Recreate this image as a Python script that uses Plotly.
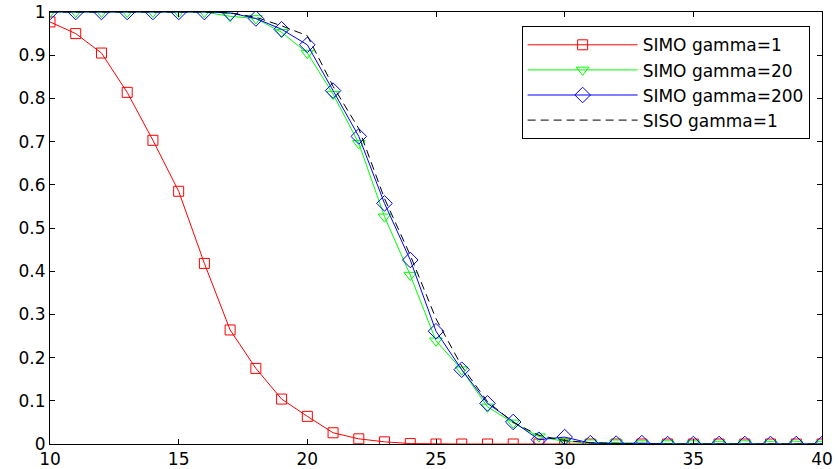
import plotly.graph_objects as go

snr = list(range(10, 41))

simo_g1 = [0.977, 0.950, 0.905, 0.814, 0.703, 0.585, 0.418, 0.264, 0.175, 0.104,
           0.064, 0.026, 0.012, 0.005, 0.001, 0.0, 0.0, 0.0, 0.0, 0.0,
           0.0, 0.0, 0.0, 0.0, 0.0, 0.0, 0.0, 0.0, 0.0, 0.0, 0.0]
simo_g20 = [1.0, 1.0, 1.0, 1.0, 1.0, 1.0, 1.0, 0.99, 0.985, 0.953,
            0.905, 0.81, 0.696, 0.526, 0.391, 0.239, 0.172, 0.086, 0.049, 0.017,
            0.006, 0.003, 0.003, 0.001, 0.001, 0.001, 0.0, 0.001, 0.0, 0.0, 0.0]
simo_g200 = [1.0, 1.0, 1.0, 1.0, 1.0, 1.0, 1.0, 0.998, 0.985, 0.96,
             0.924, 0.818, 0.712, 0.557, 0.426, 0.261, 0.172, 0.094, 0.051, 0.010,
             0.016, 0.002, 0.001, 0.002, 0.0, 0.0, 0.0, 0.0, 0.0, 0.0, 0.0]
siso_g1 = [1.0, 1.0, 1.0, 1.0, 1.0, 1.0, 1.0, 0.998, 0.988, 0.968,
           0.945, 0.828, 0.73, 0.568, 0.437, 0.29, 0.18, 0.098, 0.05, 0.02,
           0.008, 0.003, 0.001, 0.0, 0.0, 0.0, 0.0, 0.0, 0.0, 0.0, 0.0]

fig = go.Figure()
fig.add_trace(go.Scatter(x=snr, y=simo_g1, name="SIMO gamma=1", mode="lines+markers",
                         line=dict(color="#ff0000", width=1),
                         marker=dict(symbol="square-open", size=10, color="#ff0000", line=dict(width=1))))
fig.add_trace(go.Scatter(x=snr, y=simo_g20, name="SIMO gamma=20", mode="lines+markers",
                         line=dict(color="#00ff00", width=1),
                         marker=dict(symbol="triangle-down-open", size=11, color="#00ff00", line=dict(width=1))))
fig.add_trace(go.Scatter(x=snr, y=simo_g200, name="SIMO gamma=200", mode="lines+markers",
                         line=dict(color="#0000ff", width=1),
                         marker=dict(symbol="diamond-open", size=12, color="#0000ff", line=dict(width=1))))
fig.add_trace(go.Scatter(x=snr, y=siso_g1, name="SISO gamma=1", mode="lines",
                         line=dict(color="black", width=1, dash="8px,5px")))

axis_style = dict(showline=True, linecolor="black", linewidth=1, mirror="ticks",
                  ticks="inside", ticklen=5, tickcolor="black", showgrid=False,
                  zeroline=False, automargin=False, ticklabeloverflow="allow",
                  tickfont=dict(family="DejaVu Sans", size=17, color="black"))

fig.update_xaxes(range=[10, 40], dtick=5, **axis_style)
fig.update_yaxes(range=[0, 1], dtick=0.1, tickformat="~g", **axis_style)

fig.update_layout(
    width=839, height=469,
    margin=dict(l=50, r=17, t=12, b=25),
    plot_bgcolor="white", paper_bgcolor="white",
    legend=dict(x=0.984, y=0.967, xanchor="right", yanchor="top",
                bordercolor="black", borderwidth=1, bgcolor="white",
                font=dict(family="DejaVu Sans", size=17, color="black"),
                tracegroupgap=0, itemwidth=110),
)

# drop the default 8px body margin so the figure fills the window
fig.write_html("out.html", config={"displayModeBar": False},
               post_script="document.body.style.margin='0';")
